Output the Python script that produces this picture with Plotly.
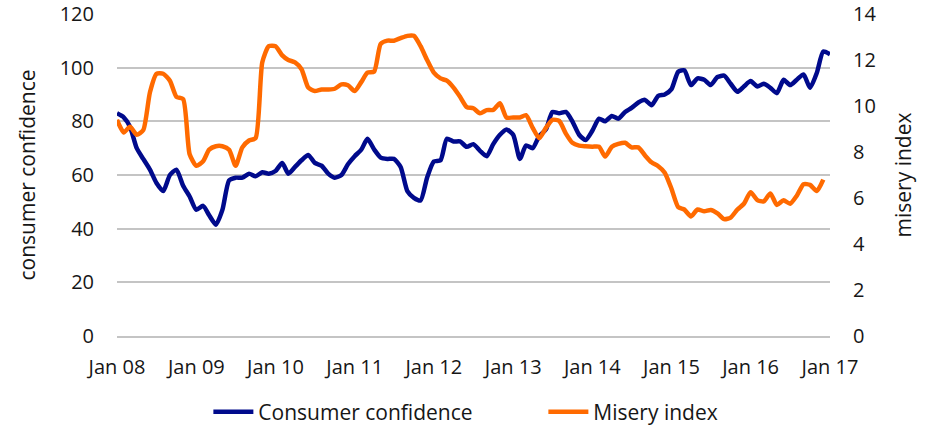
import pandas as pd
import plotly.graph_objects as go

months = pd.date_range("2008-01-01", periods=109, freq="MS")

confidence = [
    83, 81.5, 78, 70, 66, 62, 57, 54, 60, 62, 56, 52,
    47, 48.5, 45, 41.5, 47, 58, 59, 59, 60.5, 59.5, 61, 60.5,
    61.5, 64.5, 60.5, 63, 65.5, 67.5, 64.5, 63.5, 60.5, 59, 60, 64,
    67, 69.5, 73.5, 69.5, 66.5, 66, 66, 63, 54, 51.5, 50.5, 59,
    65, 65.5, 73.5, 72.5, 72.5, 70.5, 71.5, 69, 67, 71.5, 75, 77,
    75, 66, 71, 70, 74.5, 77, 83.5, 83, 83.5, 80, 75, 73,
    76.5, 81, 80, 82, 81, 83.5, 85, 87, 88, 86, 89.5, 90,
    92, 98.5, 99, 93.5, 96, 95.5, 93.5, 96.5, 97, 94, 91, 93,
    95, 93, 94, 92.5, 90.5, 95.5, 93.5, 95.5, 97.5, 92.5, 98, 106,
    105,
]

misery = [
    9.4, 8.85, 9.1, 8.75, 8.95, 10.6, 11.4, 11.4, 11.1, 10.4, 10.3, 7.9,
    7.4, 7.6, 8.1, 8.25, 8.25, 8.1, 7.4, 8.2, 8.5, 8.6, 11.9, 12.6,
    12.6, 12.2, 12.0, 11.9, 11.6, 10.8, 10.65, 10.72, 10.72, 10.75, 10.94, 10.9,
    10.65, 11.05, 11.45, 11.5, 12.7, 12.84, 12.84, 12.95, 13.05, 13.05, 12.6, 12.0,
    11.45, 11.2, 11.1, 10.8, 10.4, 9.95, 9.9, 9.68, 9.82, 9.83, 10.12, 9.5,
    9.5, 9.5, 9.6, 9.05, 8.6, 9.05, 9.4, 9.35, 8.8, 8.4, 8.28, 8.25,
    8.23, 8.23, 7.8, 8.23, 8.35, 8.4, 8.2, 8.2, 7.85, 7.55, 7.38, 7.1,
    6.4, 5.6, 5.5, 5.2, 5.5, 5.42, 5.48, 5.33, 5.08, 5.15, 5.5, 5.75,
    6.25, 5.91, 5.85, 6.2, 5.7, 5.9, 5.75, 6.1, 6.6, 6.57, 6.3, 6.8,
    None,
]

FONT = "Open Sans"
TXT = "#161616"
GRID = "#C4C4C4"

fig = go.Figure()
fig.add_trace(go.Scatter(
    x=months, y=confidence, name="Consumer confidence", mode="lines",
    line=dict(color="#000A8C", width=4.5, shape="spline", smoothing=0.6),
    yaxis="y",
))
fig.add_trace(go.Scatter(
    x=months, y=misery, name="Misery index", mode="lines",
    line=dict(color="#FF6A00", width=4.5, shape="spline", smoothing=0.6),
    yaxis="y2",
))

fig.update_layout(
    width=930, height=427,
    margin=dict(l=117, r=100, t=14, b=91, autoexpand=False),
    paper_bgcolor="white", plot_bgcolor="white",
    font=dict(family=FONT, size=20, color=TXT),
    showlegend=True,
    legend=dict(orientation="h", x=0.598, xanchor="center",
                y=0.035, yanchor="middle", yref="container",
                font=dict(size=21, color=TXT), itemwidth=40,
                entrywidth=280, entrywidthmode="pixels",
                tracegroupgap=0),
    xaxis=dict(
        range=["2008-01-01", "2017-01-01"],
        tickmode="linear", tick0="2008-01-01", dtick="M12",
        tickformat="%b %y", showgrid=False, zeroline=False,
        showline=True, linecolor=GRID, linewidth=1.5,
        ticks="", ticklabelstandoff=12,
        tickfont=dict(size=20, color=TXT),
    ),
    yaxis=dict(
        range=[0, 120], dtick=20, tick0=0,
        showgrid=True, gridcolor=GRID, gridwidth=1.5,
        zeroline=False, showline=False, ticks="",
        ticklabelstandoff=22,
        tickfont=dict(size=20, color=TXT),
        title=dict(text="consumer confidence", standoff=18,
                   font=dict(size=21, color=TXT)),
    ),
    yaxis2=dict(
        range=[0, 14], dtick=2, tick0=0, overlaying="y", side="right",
        showgrid=False, zeroline=False, showline=False, ticks="",
        ticklabelstandoff=22,
        tickfont=dict(size=20, color=TXT),
        title=dict(text="misery index", standoff=20,
                   font=dict(size=21, color=TXT)),
    ),
)

fig.write_html("out.html", config={"displayModeBar": False},
               post_script="document.body.style.margin='0px';document.body.style.padding='0px';")
